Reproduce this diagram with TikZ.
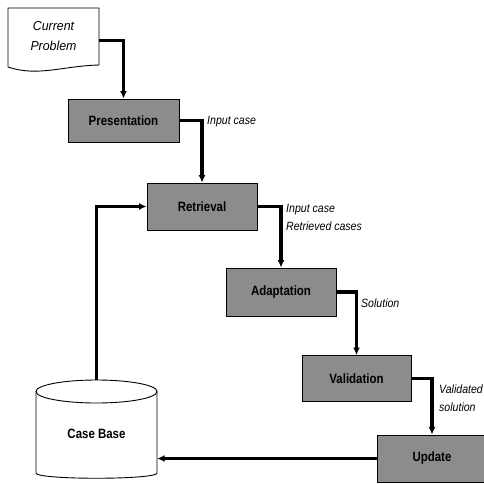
\documentclass[tikz,border=0pt]{standalone}
\usepackage{fontspec}
\setmainfont{Liberation Sans}
\newfontfamily\boxfont[FakeStretch=0.85]{Liberation Sans}
\newfontfamily\labfont[FakeStretch=0.88]{Liberation Sans}
\newfontfamily\curfont[FakeStretch=0.95]{Liberation Sans}
\usetikzlibrary{arrows.meta}
\definecolor{boxgray}{RGB}{140,140,140}
\tikzset{
  stepbox/.style={draw=black, line width=0.9pt, fill=boxgray, inner sep=0pt,
    font={\boxfont\bfseries\fontsize{13.5}{16}\selectfont}},
  flow/.style={line width=3.2pt, line join=miter, -{Latex[length=7.5pt,width=7pt]}},
  thinflow/.style={line width=2.2pt, line join=miter, -{Latex[length=7.5pt,width=7pt]}},
  lab/.style={anchor=west, inner sep=0pt, align=left,
    font={\labfont\itshape\fontsize{12}{18}\selectfont}},
  outline/.style={draw=black, line width=0.9pt}
}
\begin{document}
\begin{tikzpicture}[x=1pt, y=-1pt]
\useasboundingbox (0,0) rectangle (484,484);
\fill[white] (0,0) rectangle (484,484);

% current problem document shape
\draw[outline] (8,8) -- (99,8) -- (99,65) .. controls (62,66) and (38,77) .. (8,67) -- cycle;
\node[minimum width=91pt, minimum height=59pt, inner sep=0pt, align=center,
  font={\curfont\itshape\fontsize{13}{20}\selectfont}] (cur) at (53.5,36) {Current\\Problem};

% process boxes
\node[stepbox, minimum width=111pt, minimum height=43pt] (pres) at (123.5,120.5) {Presentation};
\node[stepbox, minimum width=110pt, minimum height=47pt] (retr) at (202,206.5) {Retrieval};
\node[stepbox, minimum width=110pt, minimum height=48pt] (adap) at (281,292) {Adaptation};
\node[stepbox, minimum width=109pt, minimum height=46pt] (val) at (356.5,378.5) {Validation};
\node[stepbox, minimum width=110pt, minimum height=47pt] (upd) at (432,458.5) {Update};

% case base cylinder
\draw[outline, fill=white] (36,391.5) -- (36,473) .. controls (36,480) and (157,480) .. (157,473) -- (157,391.5);
\draw[outline] (96.5,391.5) ellipse [x radius=60.5pt, y radius=11.5pt];
\node[minimum width=121pt, minimum height=90pt, inner sep=0pt,
  font={\boxfont\bfseries\fontsize{13.5}{16}\selectfont}] (cb) at (96.5,434) {Case Base};
\coordinate (cbtop) at (96.5,380);

% connectors
\draw[flow] ([yshift=-4.5pt]cur.east) -| (pres.north);
\draw[flow] (pres.east) -| (retr.north);
\draw[flow] (retr.east) -| (adap.north);
\draw[flow] (adap.east) -| (val.north);
\draw[flow] (val.east) -| (upd.north);
\draw[flow] (upd.west) -- (cb.east |- upd.west);
\draw[thinflow] (cbtop) |- (retr.west);

% labels
\node[lab] (l1) at (207,122) {Input case};
\node[lab] (l2) at (286,217) {Input case\\Retrieved cases};
\node[lab] (l3) at (361,303) {Solution};
\node[lab] (l4) at (439,398) {Validated\\solution};
\end{tikzpicture}
\end{document}
